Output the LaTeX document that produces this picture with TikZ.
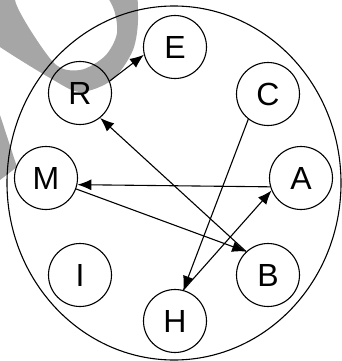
\documentclass[tikz,border=0pt]{standalone}
\usepackage{fontspec}
\setmainfont{Liberation Sans}
\usepackage{tikz}
\usetikzlibrary{arrows.meta, shapes}

\definecolor{wmgray}{HTML}{A6A6A6}

\begin{document}
\begin{tikzpicture}[x=1pt,y=-1pt,
  vertex/.style={circle,draw,line width=1.1pt,minimum size=63pt,inner sep=0pt,
    font=\fontsize{32}{32}\selectfont},
  >={Latex[length=14pt,width=11pt]}]
\useasboundingbox (0,0) rectangle (342,361);
% grey mark in the corner
\begin{scope}
\clip (0,0) rectangle (342,361);
\fill[wmgray,even odd rule]
  plot[smooth cycle] coordinates {(0,47) (50,78) (80,92) (112,80) (133,50) (138,15) (130,-20) (70,-45) (-20,-25) (-20,30)}
  plot[smooth cycle] coordinates {(15,0) (53,62) (80,70) (105,56) (117,33) (112,5) (90,-20) (40,-20)};
\fill[wmgray] (0,115) -- (17,167) -- (0,180) -- cycle;
\end{scope}

\draw[line width=1.1pt] (174,183) ellipse [x radius=167, y radius=177];

\foreach \n/\x/\y in {E/175/47, R/80/93, C/268/94, M/46/178, A/301/178, I/80/275, B/268/275, H/175/321} {
  \node[vertex] (\n) at (\x,\y) {\n};
}

\draw[->,line width=1.1pt] (R.22) -- (E.194);
\draw[->,line width=1.1pt] (B.133) -- (R.-51);
\draw[->,line width=1.1pt] (M.-20) -- (B.133);
\draw[->,line width=1.1pt] (A.196) -- (M.-12);
\draw[->,line width=1.1pt] (C.232) -- (H.75);
\draw[->,line width=1.1pt] (H.75) -- (A.203);
\end{tikzpicture}
\end{document}
